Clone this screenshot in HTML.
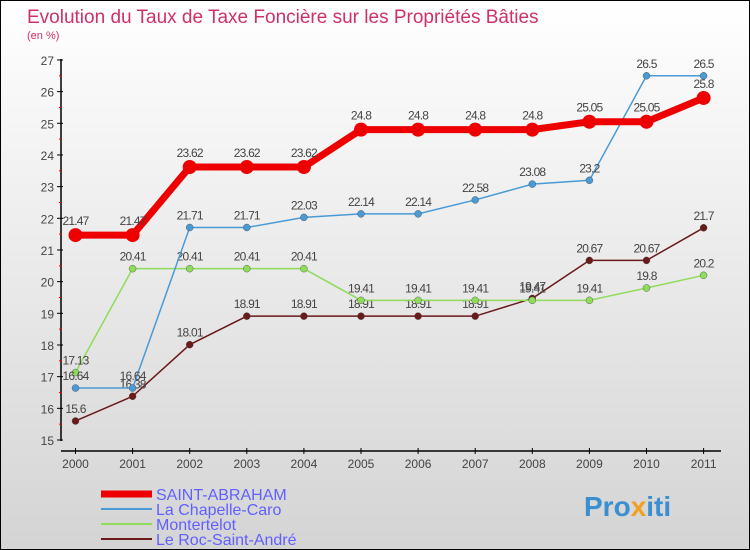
<!DOCTYPE html>
<html><head><meta charset="utf-8"><style>
body{margin:0}
#c{width:748px;height:548px;border:1px solid #000;background:linear-gradient(#ffffff,#d4d4d4);position:relative;overflow:hidden;font-family:"Liberation Sans",sans-serif}
</style></head><body>
<div id="c">
<svg id="s" width="748" height="548" xmlns="http://www.w3.org/2000/svg">
<text x="26" y="22" font-size="19" fill="#d0306a">Evolution du Taux de Taxe Foncière sur les Propriétés Bâties</text>
<text x="26" y="38" font-size="11" fill="#d0306a">(en %)</text>
<text x="583" y="515" font-size="28" font-weight="bold" fill="#3a8fd0">Pro<tspan fill="#f0a020">x</tspan>iti</text>
</svg>
</div>
<script>
const years=[2000,2001,2002,2003,2004,2005,2006,2007,2008,2009,2010,2011];
const yTicks=[15,16,17,18,19,20,21,22,23,24,25,26,27];
const seriesNames=["SAINT-ABRAHAM","La Chapelle-Caro","Montertelot","Le Roc-Saint-André"];
const saint=[21.47,21.47,23.62,23.62,23.62,24.8,24.8,24.8,24.8,25.05,25.05,25.8];
const chapelle=[16.64,16.64,21.71,21.71,22.03,22.14,22.14,22.58,23.08,23.2,26.5,26.5];
const monter=[17.13,20.41,20.41,20.41,20.41,19.41,19.41,19.41,19.41,19.41,19.8,20.2];
const roc=[15.6,16.38,18.01,18.91,18.91,18.91,18.91,18.91,19.47,20.67,20.67,21.7];
const NS="http://www.w3.org/2000/svg",s=document.getElementById('s');
const X=i=>74.5+i*57.1, Y=v=>439-(v-15)*31.67;
function el(t,a,p){const e=document.createElementNS(NS,t);for(const k in a)e.setAttribute(k,a[k]);(p||s).appendChild(e);return e;}
// axes
let ya=el('line',{x1:60,y1:58,x2:60,y2:440,stroke:'#000','stroke-width':1.5});


let xa=el('line',{x1:60,y1:450,x2:720,y2:450,stroke:'#000','stroke-width':1.5});


yTicks.forEach(v=>{
  el('line',{x1:56,y1:Y(v),x2:62,y2:Y(v),stroke:'#000'});
  if(v<27) el('line',{x1:58,y1:Y(v+0.5),x2:61,y2:Y(v+0.5),stroke:'#e00'});
  const t=el('text',{x:53,y:Y(v)+5,'font-size':12,fill:'#444','text-anchor':'end'});t.textContent=v;
  
  
});
years.forEach((y,i)=>{
  el('line',{x1:X(i),y1:447,x2:X(i),y2:453,stroke:'#000'});
  const t=el('text',{x:X(i),y:467,'font-size':12,fill:'#444','text-anchor':'middle'});t.textContent=y;
  
  
});
const specs=[[saint,'#ee0000',7,7],[chapelle,'#4a9ad6',1.5,3.5],[monter,'#8fdc5a',1.5,3.5],[roc,'#6b1a1a',1.5,3.5]];
const order=[3,2,1,0];
order.forEach(k=>{
  const [d,c,w,r]=specs[k];
  const g=el('g',{});
  
  
  el('polyline',{points:d.map((v,i)=>X(i)+','+Y(v)).join(' '),fill:'none',stroke:c,'stroke-width':w},g);
  d.forEach((v,i)=>{
    const p=el('circle',{cx:X(i),cy:Y(v),r:r,fill:c,stroke:k?'#444':'none','stroke-width':0.4},g);
    
    
    const t=el('text',{x:X(i),y:Y(v)-(k==0?10:8),'font-size':12,fill:'#444','text-anchor':'middle','letter-spacing':'-0.8'},g);
    t.textContent=v;
  });
});
// legend
const ly=[493,508,523,538];
seriesNames.forEach((n,k)=>{
  const g=el('g',{});
  
  
  el('line',{x1:100,y1:ly[k],x2:151,y2:ly[k],stroke:specs[k][1],'stroke-width':k?2:7},g);
  const t=el('text',{x:155,y:ly[k]+6,'font-size':16,fill:'#6060ff'},g);t.textContent=n;
});
</script>
</body></html>
